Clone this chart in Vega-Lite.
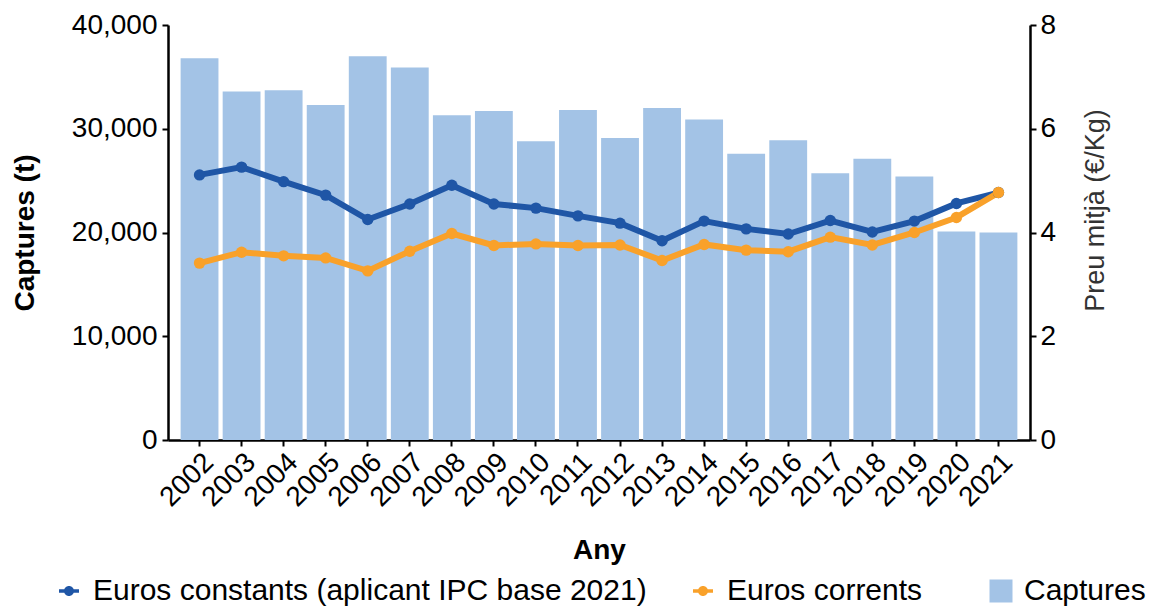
{
  "$schema": "https://vega.github.io/schema/vega-lite/v6.json",
  "width": 862,
  "height": 415,
  "autosize": "none",
  "padding": {"left": 168, "top": 25, "right": 125, "bottom": 170},
  "config": {
    "font": "Liberation Sans",
    "view": {"stroke": null},
    "axis": {
      "grid": false,
      "domainColor": "#000000",
      "domainWidth": 2.5,
      "tickColor": "#000000",
      "tickWidth": 2,
      "tickSize": 6,
      "labelColor": "#000000",
      "labelFontSize": 28,
      "titleFontSize": 28,
      "titleColor": "#000000"
    }
  },
  "datasets": {
    "captures": [
      {"any": "2002", "captures": 36800, "tipus": "Captures"},
      {"any": "2003", "captures": 33600, "tipus": "Captures"},
      {"any": "2004", "captures": 33700, "tipus": "Captures"},
      {"any": "2005", "captures": 32300, "tipus": "Captures"},
      {"any": "2006", "captures": 37000, "tipus": "Captures"},
      {"any": "2007", "captures": 35900, "tipus": "Captures"},
      {"any": "2008", "captures": 31300, "tipus": "Captures"},
      {"any": "2009", "captures": 31700, "tipus": "Captures"},
      {"any": "2010", "captures": 28800, "tipus": "Captures"},
      {"any": "2011", "captures": 31800, "tipus": "Captures"},
      {"any": "2012", "captures": 29100, "tipus": "Captures"},
      {"any": "2013", "captures": 32000, "tipus": "Captures"},
      {"any": "2014", "captures": 30900, "tipus": "Captures"},
      {"any": "2015", "captures": 27600, "tipus": "Captures"},
      {"any": "2016", "captures": 28900, "tipus": "Captures"},
      {"any": "2017", "captures": 25700, "tipus": "Captures"},
      {"any": "2018", "captures": 27100, "tipus": "Captures"},
      {"any": "2019", "captures": 25400, "tipus": "Captures"},
      {"any": "2020", "captures": 20100, "tipus": "Captures"},
      {"any": "2021", "captures": 20000, "tipus": "Captures"}
    ],
    "preus": [
      {"any": "2002", "serie": "Euros constants (aplicant IPC base 2021)", "preu": 5.11},
      {"any": "2003", "serie": "Euros constants (aplicant IPC base 2021)", "preu": 5.26},
      {"any": "2004", "serie": "Euros constants (aplicant IPC base 2021)", "preu": 4.98},
      {"any": "2005", "serie": "Euros constants (aplicant IPC base 2021)", "preu": 4.72},
      {"any": "2006", "serie": "Euros constants (aplicant IPC base 2021)", "preu": 4.25},
      {"any": "2007", "serie": "Euros constants (aplicant IPC base 2021)", "preu": 4.55},
      {"any": "2008", "serie": "Euros constants (aplicant IPC base 2021)", "preu": 4.91},
      {"any": "2009", "serie": "Euros constants (aplicant IPC base 2021)", "preu": 4.55},
      {"any": "2010", "serie": "Euros constants (aplicant IPC base 2021)", "preu": 4.47},
      {"any": "2011", "serie": "Euros constants (aplicant IPC base 2021)", "preu": 4.32},
      {"any": "2012", "serie": "Euros constants (aplicant IPC base 2021)", "preu": 4.18},
      {"any": "2013", "serie": "Euros constants (aplicant IPC base 2021)", "preu": 3.84},
      {"any": "2014", "serie": "Euros constants (aplicant IPC base 2021)", "preu": 4.22},
      {"any": "2015", "serie": "Euros constants (aplicant IPC base 2021)", "preu": 4.07},
      {"any": "2016", "serie": "Euros constants (aplicant IPC base 2021)", "preu": 3.97},
      {"any": "2017", "serie": "Euros constants (aplicant IPC base 2021)", "preu": 4.23},
      {"any": "2018", "serie": "Euros constants (aplicant IPC base 2021)", "preu": 4.01},
      {"any": "2019", "serie": "Euros constants (aplicant IPC base 2021)", "preu": 4.22},
      {"any": "2020", "serie": "Euros constants (aplicant IPC base 2021)", "preu": 4.56},
      {"any": "2021", "serie": "Euros constants (aplicant IPC base 2021)", "preu": 4.77},
      {"any": "2002", "serie": "Euros corrents", "preu": 3.41},
      {"any": "2003", "serie": "Euros corrents", "preu": 3.62},
      {"any": "2004", "serie": "Euros corrents", "preu": 3.55},
      {"any": "2005", "serie": "Euros corrents", "preu": 3.51},
      {"any": "2006", "serie": "Euros corrents", "preu": 3.26},
      {"any": "2007", "serie": "Euros corrents", "preu": 3.64},
      {"any": "2008", "serie": "Euros corrents", "preu": 3.98},
      {"any": "2009", "serie": "Euros corrents", "preu": 3.75},
      {"any": "2010", "serie": "Euros corrents", "preu": 3.78},
      {"any": "2011", "serie": "Euros corrents", "preu": 3.75},
      {"any": "2012", "serie": "Euros corrents", "preu": 3.76},
      {"any": "2013", "serie": "Euros corrents", "preu": 3.46},
      {"any": "2014", "serie": "Euros corrents", "preu": 3.77},
      {"any": "2015", "serie": "Euros corrents", "preu": 3.66},
      {"any": "2016", "serie": "Euros corrents", "preu": 3.63},
      {"any": "2017", "serie": "Euros corrents", "preu": 3.91},
      {"any": "2018", "serie": "Euros corrents", "preu": 3.76},
      {"any": "2019", "serie": "Euros corrents", "preu": 4.00},
      {"any": "2020", "serie": "Euros corrents", "preu": 4.29},
      {"any": "2021", "serie": "Euros corrents", "preu": 4.77}
    ]
  },
  "layer": [
    {
      "data": {"name": "captures"},
      "mark": {"type": "bar"},
      "encoding": {
        "x": {
          "field": "any",
          "type": "ordinal",
          "scale": {"paddingInner": 0.1, "paddingOuter": 0.3},
          "axis": {
            "title": "Any",
            "titleFontWeight": "bold",
            "titleX": 431,
            "titleY": 118,
            "titleBaseline": "alphabetic",
            "labelAngle": -45,
            "labelAlign": "right",
            "labelBaseline": "top",
            "labelPadding": 2
          }
        },
        "y": {
          "field": "captures",
          "type": "quantitative",
          "scale": {"domain": [0, 40000], "nice": false},
          "axis": {
            "title": "Captures (t)",
            "titleFontWeight": "bold",
            "titleX": -135,
            "titleY": 207.5,
            "titleBaseline": "alphabetic",
            "titleAngle": -90,
            "values": [0, 10000, 20000, 30000, 40000],
            "format": ",d",
            "labelPadding": 5
          }
        },
        "fill": {
          "field": "tipus",
          "type": "nominal",
          "scale": {"domain": ["Captures"], "range": ["#a3c3e6"]},
          "legend": {
            "title": null,
            "orient": "none",
            "legendX": 818,
            "legendY": 551,
            "padding": 0,
            "symbolType": "square",
            "symbolSize": 529,
            "symbolStrokeWidth": 0,
            "labelFontSize": 30,
            "labelColor": "#000000",
            "labelOffset": 8
          }
        }
      }
    },
    {
      "data": {"name": "preus"},
      "encoding": {
        "x": {"field": "any", "type": "ordinal"},
        "y": {
          "field": "preu",
          "type": "quantitative",
          "scale": {"domain": [0, 8], "nice": false},
          "axis": {
            "orient": "right",
            "title": "Preu mitjà (€/Kg)",
            "titleFontWeight": "normal",
            "titleFontSize": 27,
            "titleColor": "#333333",
            "titleAngle": 270,
            "titleX": 52,
            "titleY": 185,
            "titleBaseline": "top",
            "titleAlign": "center",
            "values": [0, 2, 4, 6, 8],
            "labelPadding": 4
          }
        },
        "color": {
          "field": "serie",
          "type": "nominal",
          "scale": {
            "domain": ["Euros constants (aplicant IPC base 2021)", "Euros corrents"],
            "range": ["#1f56a6", "#f9a12a"]
          },
          "legend": {
            "title": null,
            "orient": "none",
            "direction": "horizontal",
            "legendX": -114,
            "legendY": 551,
            "padding": 0,
            "symbolType": "M-1,-0.18L1,-0.18L1,0.18L-1,0.18Z M0.5,0A0.5,0.5 0 1,1 -0.5,0A0.5,0.5 0 1,1 0.5,0Z",
            "symbolSize": 400,
            "symbolStrokeWidth": 0,
            "labelFontSize": 30,
            "labelColor": "#000000",
            "labelOffset": 9,
            "columnPadding": 41,
            "labelLimit": 800
          }
        }
      },
      "layer": [
        {"mark": {"type": "line", "strokeWidth": 6}},
        {"mark": {"type": "point", "filled": true, "size": 130, "opacity": 1}}
      ]
    }
  ],
  "resolve": {"scale": {"y": "independent"}}
}
